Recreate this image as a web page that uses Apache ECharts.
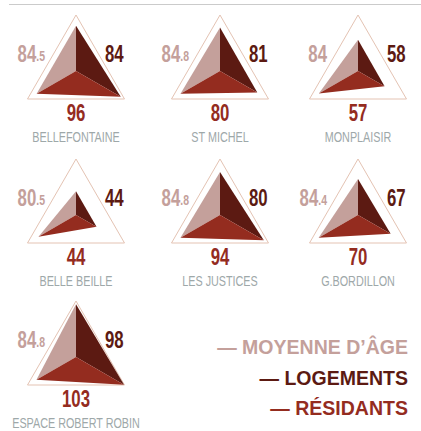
<!DOCTYPE html>
<html>
<head>
<meta charset="utf-8">
<script src="https://cdn.jsdelivr.net/npm/echarts@6/dist/echarts.min.js"></script>
<style>
  html, body { margin: 0; padding: 0; background: #fff; }
  #main { width: 421px; height: 431px; }
</style>
</head>
<body>
<div id="main"></div>
<script>
// quartiers
var names = ['BELLEFONTAINE', 'ST MICHEL', 'MONPLAISIR', 'BELLE BEILLE', 'LES JUSTICES', 'G.BORDILLON', 'ESPACE ROBERT ROBIN'];
var ages = [84.5, 84.8, 84, 80.5, 84.8, 84.4, 84.8];
var logements = [84, 81, 58, 44, 80, 67, 98];
var residants = [96, 80, 57, 44, 94, 70, 103];
var legendLabels = ['MOYENNE D\u2019ÂGE', 'LOGEMENTS', 'RÉSIDANTS'];

var cAge = '#c4a09b', cLog = '#5c1a12', cRes = '#942c1f';
var font = '"Liberation Sans", Arial, sans-serif';
var colX = [76, 220, 358], rowY = [71, 215, 357];
var R = 56, MAX = 104;
var SX = 0.7; // police étroite

var ctx = document.createElement('canvas').getContext('2d');
function textW(t, f) { ctx.font = f; return ctx.measureText(t).width; }

var radars = [], series = [], graphics = [];

graphics.push({
  type: 'line', shape: { x1: 9, y1: 4.5, x2: 421, y2: 4.5 }, z: 100,
  style: { stroke: '#cbcbcb', lineWidth: 1 }, silent: true
});

function txt(x, y, s, f, color, align, sx) {
  graphics.push({
    type: 'group', x: x, y: y, scaleX: sx, scaleY: 1, z: 100, silent: true,
    children: [{
      type: 'text', x: 0, y: 0, silent: true,
      style: { text: s, align: align, verticalAlign: 'middle', font: f, fill: color }
    }]
  });
}

names.forEach(function (n, i) {
  var cx = colX[i % 3], cy = rowY[Math.floor(i / 3)];
  radars.push({
    center: [cx, cy], radius: R, startAngle: 90, shape: 'polygon', splitNumber: 1,
    indicator: [{ min: 0, max: MAX }, { min: 0, max: MAX }, { min: 0, max: MAX }],
    axisName: { show: false },
    axisLine: { show: false },
    splitArea: { show: false },
    splitLine: { lineStyle: { color: '#e4c3b3', width: 1 } }
  });
  // 3 faces: top = logements, bas-gauche = âge, bas-droite = résidants
  series.push({
    type: 'radar', radarIndex: i, symbol: 'none', silent: true,
    lineStyle: { width: 0 },
    data: [
      { value: [logements[i], ages[i], 0], areaStyle: { color: cAge, opacity: 1 } },
      { value: [logements[i], 0, residants[i]], areaStyle: { color: cLog, opacity: 1 } },
      { value: [0, ages[i], residants[i]], areaStyle: { color: cRes, opacity: 1 } }
    ]
  });

  var numFont = 'bold 24px ' + font, decFont = 'bold 15px ' + font;
  var parts = String(ages[i]).split('.');
  var xr = cx - 31;
  if (parts[1]) {
    var dec = '.' + parts[1];
    txt(xr, cy - 15, dec, decFont, cAge, 'right', SX);
    xr -= textW(dec, decFont) * SX;
  }
  txt(xr, cy - 18, parts[0], numFont, cAge, 'right', SX);
  txt(cx + 29, cy - 18, String(logements[i]), numFont, cLog, 'left', SX);
  txt(cx, cy + 41, String(residants[i]), numFont, cRes, 'center', SX);
  txt(cx, cy + 66, n, '15px ' + font, '#9ea8a9', 'center', 0.72);
});

var legColors = [cAge, cLog, cRes];
legendLabels.forEach(function (t, k) {
  txt(408, 347 + k * 30.5, '\u2014 ' + t, 'bold 21px ' + font, legColors[k], 'right', 0.93);
});

var chart = echarts.init(document.getElementById('main'), null, { renderer: 'svg' });
chart.setOption({
  animation: false,
  radar: radars,
  series: series,
  graphic: graphics
});
</script>
</body>
</html>
